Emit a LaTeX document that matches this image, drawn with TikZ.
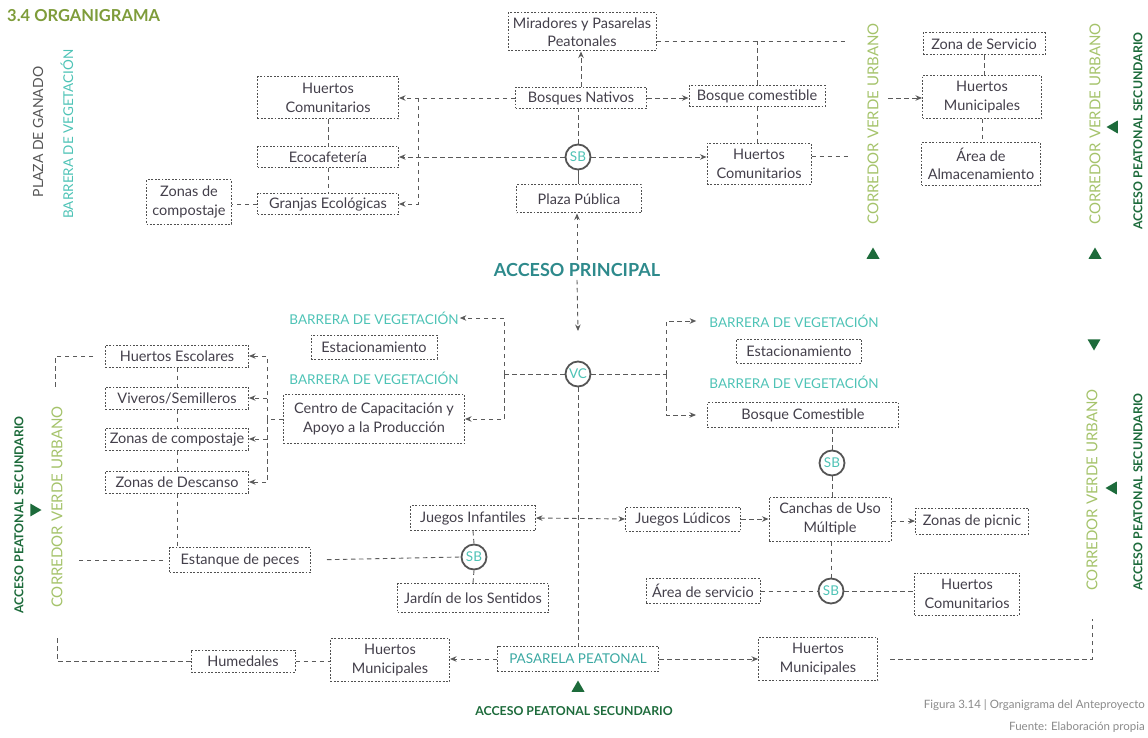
\documentclass[tikz,border=0pt]{standalone}
\usepackage{fontspec}
\setmainfont{Lato}
\usetikzlibrary{arrows.meta,calc,shapes.geometric}
\definecolor{txt}{HTML}{433F4A}
\definecolor{ln}{HTML}{5A5A5A}
\definecolor{bord}{HTML}{505050}
\definecolor{tealA}{HTML}{4EC3B6}
\definecolor{tealB}{HTML}{3AA8A2}
\definecolor{tealC}{HTML}{2E8A8C}
\definecolor{oliveA}{HTML}{A5C36B}
\definecolor{dgreen}{HTML}{1D6B3B}
\definecolor{titlec}{HTML}{7E9C3A}
\definecolor{capc}{HTML}{8A8A8A}
\definecolor{grayA}{HTML}{555555}
\begin{document}
\begin{tikzpicture}[x=1pt,y=-1pt,
  bx/.style 2 args={draw=bord, line width=1pt, dash pattern=on 1.8pt off 1.6pt,
    minimum width=#1pt, minimum height=#2pt, inner sep=0pt, align=center,
    font=\fontsize{14.5}{18.5}\selectfont, text=txt},
  conn/.style={draw=ln, line width=0.9pt, dash pattern=on 4.5pt off 3.5pt},
  arr/.style={conn, -{Stealth[length=6.5pt,width=5.5pt]}},
  darr/.style={conn, {Stealth[length=6.5pt,width=5.5pt]}-{Stealth[length=6.5pt,width=5.5pt]}},
  circ/.style={circle, draw=grayA, line width=1.8pt, fill=white, minimum size=25pt,
    inner sep=0pt, text=tealA, font=\fontsize{13.5}{14}\selectfont},
  barr/.style={text=tealA, inner sep=1pt, font=\fontsize{13.5}{16}\selectfont},
  corr/.style={text=oliveA, rotate=90, inner sep=0pt, font=\fontsize{15}{16}\selectfont},
  apsec/.style={text=dgreen, inner sep=0pt, font=\bfseries\fontsize{12.3}{13}\selectfont},
  tri/.style={regular polygon, regular polygon sides=3, fill=dgreen, minimum size=15pt, inner sep=0pt},
  capt/.style={anchor=east, text=capc, inner sep=0pt, font=\fontsize{11.5}{13}\selectfont}
]
\useasboundingbox (0,0) rectangle (1148,738);

% titles
\node[anchor=west, text=titlec, inner sep=0pt, font=\bfseries\fontsize{16.5}{18}\selectfont] (title) at (7,16) {3.4 ORGANIGRAMA};
\node[rotate=90, text=grayA, inner sep=0pt, font=\fontsize{14}{16}\selectfont] (plaza) at (38,132) {PLAZA DE GANADO};
\node[barr, rotate=90] (bvl) at (67,134) {BARRERA DE VEGETACIÓN};

% top-left cluster
\node[bx={141}{42}] (hc1) at (328,98) {Huertos\\Comunitarios};
\node[bx={141}{21}] (eco) at (328,157) {Ecocafetería};
\node[bx={141}{21}] (gra) at (328,204) {Granjas Ecológicas};
\node[bx={85}{44}] (zc1) at (189,202) {Zonas de\\compostaje};

% top-middle
\node[bx={148}{38}] (mir) at (582,32) {Miradores y Pasarelas\\Peatonales};
\node[bx={131}{21}] (bn) at (581,98) {Bosques Nativos};
\node[bx={136}{21}] (bc) at (757,96) {Bosque comestible};
\node[circ] (sb1) at (578,157) {SB};
\node[bx={104}{41}] (hc2) at (759,164) {Huertos\\Comunitarios};
\node[bx={125}{28}] (pp) at (579,199) {Plaza Pública};
\node[text=tealC, inner sep=3pt, font=\bfseries\fontsize{18}{20}\selectfont] (ap) at (577,270) {ACCESO PRINCIPAL};
\node[circ] (vc) at (578,374) {VC};
\coordinate (apEnd) at (578,331);

% top-right
\node[corr] (cv1) at (873,124) {CORREDOR VERDE URBANO};
\node[tri] (tri1) at (873,255) {};
\node[bx={122}{22}] (zs) at (984,44) {Zona de Servicio};
\node[bx={119}{43}] (hm1) at (982,97) {Huertos\\Municipales};
\node[bx={119}{43}] (aa) at (981,164) {Área de\\Almacenamiento};
\node[corr] (cv2) at (1095,124) {CORREDOR VERDE URBANO};
\node[tri] (tri2) at (1095,255) {};
\node[tri, rotate=90] (tri3) at (1114,127) {};
\node[apsec, rotate=90] (aps1) at (1138,131) {ACCESO PEATONAL SECUNDARIO};

% middle-left
\node[bx={143}{22}] (he) at (177,356) {Huertos Escolares};
\node[bx={143}{22}] (vs) at (177,398) {Viveros/Semilleros};
\node[bx={143}{22}] (zc2) at (177,439) {Zonas de compostaje};
\node[bx={143}{22}] (zd) at (177,482) {Zonas de Descanso};
\node[corr] (cv3) at (57,507) {CORREDOR VERDE URBANO};
\node[apsec, rotate=90] (aps2) at (19,515) {ACCESO PEATONAL SECUNDARIO};
\node[tri, rotate=-90] (tri4) at (34,510) {};

\node[barr] (bv1) at (374,318) {BARRERA DE VEGETACIÓN};
\node[bx={126}{24}] (est1) at (374,347) {Estacionamiento};
\node[barr] (bv2) at (374,378) {BARRERA DE VEGETACIÓN};
\node[bx={181}{49}] (ccap) at (374,419) {Centro de Capacitación y\\Apoyo a la Producción};

% middle-right
\node[barr] (bv3) at (794,321) {BARRERA DE VEGETACIÓN};
\node[bx={125}{24}] (est2) at (799,351) {Estacionamiento};
\node[barr] (bv4) at (794,382) {BARRERA DE VEGETACIÓN};
\node[bx={191}{25}] (bcm) at (803,415) {Bosque Comestible};
\node[circ] (sb2) at (832,463) {SB};
\node[bx={122}{44}] (cu) at (830,519) {Canchas de Uso\\Múltiple};
\node[bx={113}{26}] (zp) at (972,521) {Zonas de picnic};
\node[tri, rotate=180] (tri5) at (1094,343) {};
\node[corr] (cv4) at (1092,490) {CORREDOR VERDE URBANO};
\node[tri, rotate=90] (tri6) at (1113,488) {};
\node[apsec, rotate=90] (aps3) at (1138,492) {ACCESO PEATONAL SECUNDARIO};

% bottom
\node[bx={141}{25}] (ep) at (240,560) {Estanque de peces};
\node[bx={125}{25}] (ji) at (473,518) {Juegos Infantiles};
\node[circ] (sb3) at (474,557) {SB};
\node[bx={151}{29}] (js) at (473,598) {Jardín de los Sentidos};
\node[bx={115}{24}] (jl) at (683,519) {Juegos Lúdicos};
\node[bx={114}{25}] (as) at (703,591) {Área de servicio};
\node[circ] (sb4) at (831,591) {SB};
\node[bx={105}{42}] (hc3) at (967,594) {Huertos\\Comunitarios};
\node[bx={104}{22}] (hum) at (243,661) {Humedales};
\node[bx={119}{43}] (hm2) at (390,660) {Huertos\\Municipales};
\node[bx={161}{25}, text=tealB, font=\fontsize{13.5}{16}\selectfont] (pas) at (578,659) {PASARELA PEATONAL};
\node[bx={119}{43}] (hm3) at (818,659) {Huertos\\Municipales};
\node[tri] (tri7) at (578,688) {};
\node[apsec] (aps4) at (574,711) {ACCESO PEATONAL SECUNDARIO};

\node[capt] (cap1) at (1145,705) {Figura 3.14 | Organigrama del Anteproyecto};
\node[capt] (cap2) at (1145,727) {Fuente: Elaboración propia};

% free-end coordinates
\coordinate (j1) at (418,98);
\coordinate (m1) at (848,41);
\coordinate (m2) at (848,156);
\coordinate (m3) at (888,98);
\coordinate (v1) at (504,374);
\coordinate (v2) at (666,374);
\coordinate (v3) at (267,419);
\coordinate (l1) at (55,388);
\coordinate (l2) at (76,560);
\coordinate (l3) at (57,635);
\coordinate (r1) at (1092,619);

% ---- connectors: top-left
\draw[arr] (bn.west) -- (hc1.east);
\draw[arr] (j1) |- (gra.east);
\draw[arr] (sb1.west) -- (eco.east);
\draw[conn] (hc1.south) -- (eco.north);
\draw[conn] (eco.south) -- (gra.north);
\draw[conn] (gra.west) -- (gra.west -| zc1.east);

% top-middle
\draw[arr] (bn.north) -- (bn.north |- mir.south);
\draw[arr] (bn.east) -- (bn.east -| bc.west);
\draw[conn] (sb1.north) -- (sb1.north |- bn.south);
\draw[draw=ln, line width=0.9pt] (sb1.south) -- (sb1.south |- pp.north);
\draw[arr] (ap.north) -- (ap.north |- pp.south);
\draw[arr] (ap.south) -- (apEnd);
\draw[conn] (mir.east |- m1) -- (m1);
\draw[conn] (bc.north) -- (bc.north |- m1);
\draw[conn] (bc.south) -- (bc.south |- hc2.north);
\draw[arr] (sb1.east) -- (sb1.east -| hc2.west);
\draw[conn] (m2 -| hc2.east) -- (m2);
\draw[arr] (m3) -- (m3 -| hm1.west);
\draw[conn] (zs.south) -- (zs.south |- hm1.north);
\draw[conn] (hm1.south) -- (hm1.south |- aa.north);

% middle
\draw[conn] (vc.west) -- (v1);
\draw[arr] (v1) |- (bv1.east);
\draw[arr] (v1) |- (ccap.east);
\draw[conn] (vc.east) -- (v2);
\draw[arr, shorten >=12pt] (v2) |- (bv3.west);
\draw[arr, shorten >=11pt] (v2) |- (bcm.west);
\draw[conn] (vc.south) -- (vc.south |- pas.north);

% middle-left
\draw[conn] (ccap.west) -- (v3);
\draw[arr] (v3) |- (he.east);
\draw[arr] (v3) |- (zd.east);
\draw[arr] (v3 |- vs.east) -- (vs.east);
\draw[arr] (v3 |- zc2.east) -- (zc2.east);
\draw[conn] (he.south) -- (vs.north);
\draw[conn] (vs.south) -- (zc2.north);
\draw[conn] (zc2.south) -- (zd.north);
\draw[conn] (zd.south) -- (zd.south |- ep.north);
\draw[conn, shorten <=12pt] (he.west) -| (l1);
\draw[conn, shorten <=6pt] (ep.west) -- (l2);

% bottom
\draw[conn, shorten <=16pt] (ep.east) -- (sb3.west);
\draw[conn] (ji.south) -- (sb3.north);
\draw[conn] (sb3.south) -- (js.north);
\draw[darr] (ji.east) -- (jl.west);
\draw[arr] (jl.east) -- (jl.east -| cu.west);
\draw[arr] (cu.east |- zp.west) -- (zp.west);
\draw[conn] (sb2.north) -- (sb2.north |- bcm.south);
\draw[conn] (sb2.south) -- (sb2.south |- cu.north);
\draw[conn] (sb4.north |- cu.south) -- (sb4.north);
\draw[conn] (as.east) -- (sb4.west);
\draw[conn] (sb4.east) -- (sb4.east -| hc3.west);
\draw[conn] (hum.east) -- (hum.east -| hm2.west);
\draw[conn] (hum.west) -| (l3);
\draw[arr] (pas.west) -- (pas.west -| hm2.east);
\draw[arr] (pas.east) -- (pas.east -| hm3.west);
\draw[conn, shorten <=12pt] (hm3.east) -| (r1);
\end{tikzpicture}
\end{document}
